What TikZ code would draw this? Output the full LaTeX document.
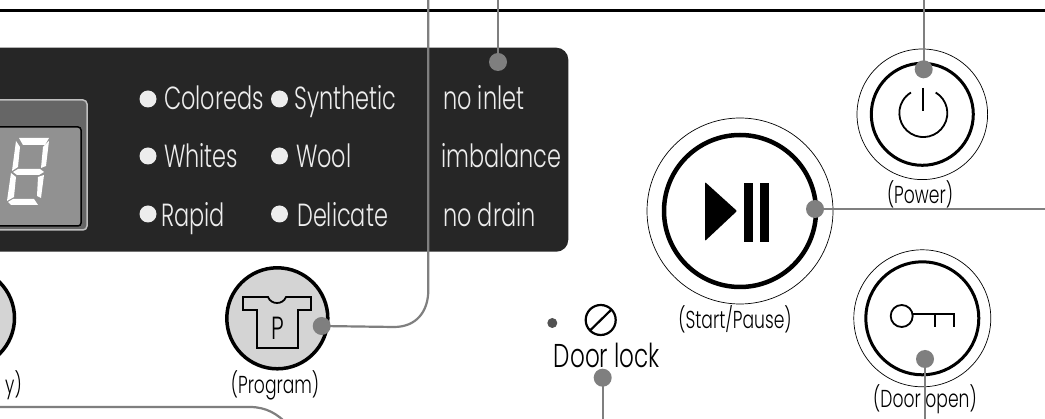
\documentclass[tikz,border=0pt]{standalone}
\usepackage{fontspec}
\setmainfont[FakeStretch=0.7]{Poppins Light}
\usetikzlibrary{positioning}
\tikzset{
  wire/.style={draw=wireGray,line width=2.2pt},
  wireDot/.style={circle,fill=wireGray,inner sep=0pt,minimum size=18pt},
  ledDot/.style={circle,fill=ledWhite,inner sep=0pt,minimum size=17pt},
  panelText/.style={anchor=base west,text=ledWhite,inner sep=0pt,font=\fontsize{32}{32}\selectfont},
  capText/.style={anchor=base,inner sep=0pt,font=\fontsize{24.5}{25}\selectfont},
  seg/.style={fill=white,draw=none},
}
\definecolor{wireGray}{HTML}{7F7F7F}
\definecolor{ledWhite}{HTML}{EDEDED}
\definecolor{panelDark}{HTML}{262626}
\definecolor{knobGray}{HTML}{D4D4D4}
\begin{document}
\begin{tikzpicture}[x=1pt,y=-1pt]
\useasboundingbox (0,0) rectangle (1045,419);
\fill[white] (0,0) rectangle (1045,419);

%%% TOP EDGE
\draw[line width=3.6pt] (0,10.5) -- (1045,10.5);

%%% DARK PANEL
\fill[panelDark,rounded corners=12pt] (-30,47.7) rectangle (568.3,251.7);
\draw[fill=black!60,draw=black!25,line width=1.5pt,rounded corners=4pt] (-30,100) rectangle (87,230);
\draw[fill=black!43,draw=black,line width=1.5pt,rounded corners=3pt] (-30,127) rectangle (81,226);

%%% DIGIT
\fill[seg] (19,138) -- (49,138) -- (45,145) -- (23,145) -- cycle;
\fill[seg] (16,141) -- (20,147) -- (18,167) -- (12,171) -- cycle;
\fill[seg] (49,141) -- (46,166) -- (41,168) -- (43,147) -- cycle;
\fill[seg] (18,169) -- (40,169) -- (44,172) -- (39,175) -- (17,175) -- (13,172) -- cycle;
\fill[seg] (11,173) -- (16,177) -- (14,197) -- (7,201) -- cycle;
\fill[seg] (44,175) -- (41,198) -- (37,196) -- (38,177) -- cycle;
\fill[seg] (13,199) -- (34,199) -- (38,205) -- (11,205) -- (8,202) -- cycle;

%%% LEDS AND PANEL TEXT
\foreach \ledX/\ledY [count=\i] in {148/99,279.5/99,148/156,279.5/156,148/214,279.5/214}
  \node[ledDot] (led\i) at (\ledX,\ledY) {};
\node[panelText] (textA) at (164,110) {Coloreds};
\node[panelText] (textB) at (294,110) {Synthetic};
\node[panelText] (textC) at (164,168) {Whites};
\node[panelText] (textD) at (296,168) {Wool};
\node[panelText] (textE) at (161,227) {Rapid};
\node[panelText] (textF) at (297,227) {Delicate};
\node[panelText] (textG) at (443,110) {no inlet};
\node[panelText] (textH) at (441,168) {imbalance};
\node[panelText] (textI) at (443,227) {no drain};

%%% PROGRAM KNOBS
\draw[fill=knobGray,line width=3.5pt] (-36,318) circle (50.5);
\node[capText] (capKnob) at (13.5,394) {y)};
\draw[fill=knobGray,line width=3.5pt] (277.3,318.3) circle (50.5);
\draw[line width=1.8pt,fill=knobGray] (243,297) -- (268,297) .. controls (271,305) and (283,305) .. (286,297) -- (311,297) -- (311,310) -- (298,310) -- (298,348) -- (257,348) -- (257,310) -- (243,310) -- cycle;
\node[anchor=base,inner sep=0pt,font=\fontsize{32}{32}\selectfont] (capP) at (278,340) {P};
\node[capText] (capProgram) at (275,394) {(Program)};

%%% START BUTTON
\draw[line width=0.7pt] (740,211) circle (93);
\draw[line width=4.5pt] (740,211) circle (76);
\fill[rounded corners=1pt] (705,182) -- (737,211) -- (705,241) -- cycle;
\fill (744,183) rectangle (752.5,242);
\fill (760,183) rectangle (769,242);
\node[capText] (capStart) at (735,329) {(Start/Pause)};

%%% POWER BUTTON
\draw[line width=0.7pt] (922.3,114.3) circle (65.3);
\draw[line width=3pt] (922.3,114.3) circle (51);
\draw[line width=1.8pt] (935.7,92.5) arc[start angle=-59,end angle=239,radius=24];
\draw[line width=1.8pt] (923.3,88) -- (923.3,111);
\node[capText] (capPower) at (920,204) {(Power)};

%%% DOOR OPEN BUTTON
\draw[line width=0.7pt] (922.3,318.3) circle (68.5);
\draw[line width=3pt] (922.3,318.3) circle (56.5);
\draw[line width=1.8pt] (901.7,316) circle (11);
\draw[line width=1.8pt] (912.5,314.3) -- (954.3,314.3) -- (954.3,326.7);
\draw[line width=1.8pt] (935,314.3) -- (935,326.7);
\node[capText] (capDoor) at (925,408) {(Door open)};

%%% DOOR LOCK
\node[circle,fill=black!68,inner sep=0pt,minimum size=10pt] (lockLed) at (552.3,323) {};
\draw[line width=2.2pt] (600.7,320) circle (15);
\draw[line width=2.2pt] (590,330.5) -- (611.5,309.5);
\node[anchor=base,inner sep=0pt,font=\fontsize{33}{33}\selectfont] (capLock) at (607,368) {Door lock};

%%% WIRES
\node[wireDot] (dotProgram) at (321.7,326) {};
\node[wireDot] (dotPanel) at (498,62) {};
\node[wireDot] (dotPower) at (923.7,69.3) {};
\node[wireDot] (dotStart) at (815,209) {};
\node[wireDot] (dotDoor) at (925,359) {};
\node[wireDot] (dotLock) at (602.7,377.7) {};
\coordinate (endProgram) at (428.3,0);
\coordinate (endPanel) at (498,0);
\coordinate (endPower) at (923.7,0);
\coordinate (endStart) at (1045,209);
\coordinate (endDoor) at (925,419);
\coordinate (endLock) at (602.7,419);
\coordinate (endLeftA) at (0,407);
\coordinate (endLeftB) at (288,425);
\draw[wire] (dotProgram.center) -- (394,327) .. controls (416,327) and (428.3,312) .. (428.3,290) -- (endProgram);
\draw[wire] (dotPanel.center) -- (endPanel);
\draw[wire] (dotPower.center) -- (endPower);
\draw[wire] (dotStart.center) -- (endStart);
\draw[wire] (dotDoor.center) -- (endDoor);
\draw[wire] (dotLock.center) -- (endLock);
\draw[wire] (endLeftA) -- (250,407) .. controls (266,407) and (278,414) .. (endLeftB);
\end{tikzpicture}
\end{document}
